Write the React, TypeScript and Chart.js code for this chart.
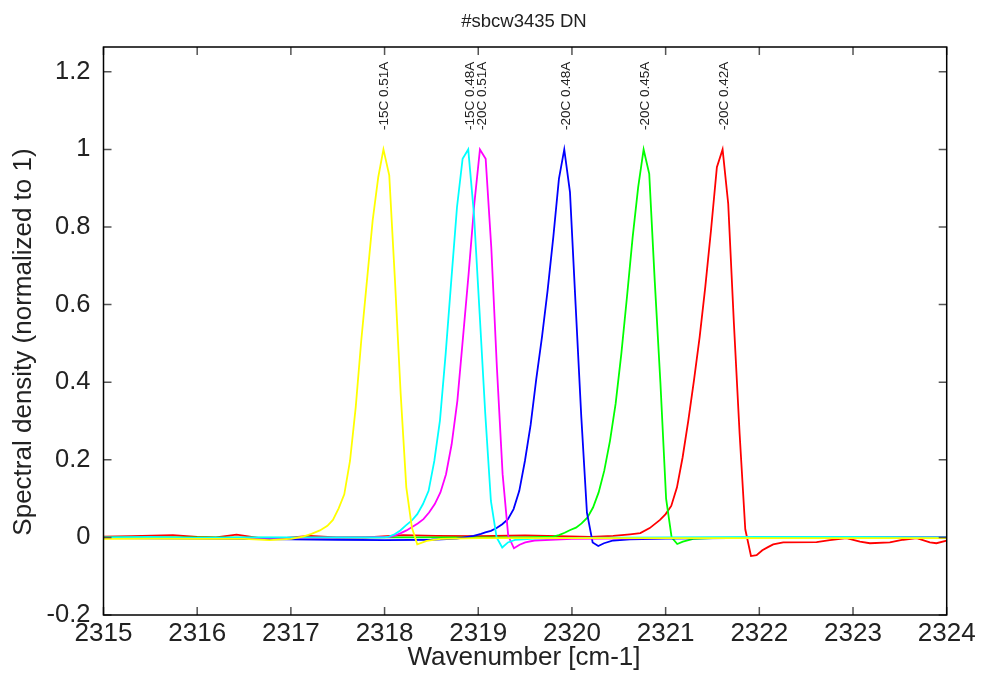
import React, { useEffect, useRef } from "react";
import { Chart, registerables } from "chart.js";

Chart.register(...registerables);

const TITLE = "#sbcw3435 DN";
const X_TITLE = "Wavenumber [cm-1]";
const Y_TITLE = "Spectral density (normalized to 1)";

const X_MIN = 2315;
const X_MAX = 2324;
const Y_MIN = -0.2;
const Y_MAX = 1.264;
const X_TICKS = [2315, 2316, 2317, 2318, 2319, 2320, 2321, 2322, 2323, 2324];
const Y_TICKS = [-0.2, 0, 0.2, 0.4, 0.6, 0.8, 1, 1.2];

const SERIES_NAMES = ["-15C 0.51A", "-15C 0.48A", "-20C 0.51A", "-20C 0.48A", "-20C 0.45A", "-20C 0.42A"];
const SERIES_COLORS = ["#ffff00", "#00ffff", "#ff00ff", "#0000ff", "#00ff00", "#ff0000"];

// peak label anchors (wavenumber, spectral density where the rotated text starts)
const LABEL_WN = [2318.0, 2318.915, 2319.04, 2319.944, 2320.78, 2321.622];
const LABEL_SD = 1.05;

const WN_YELLOW = [2315.0, 2315.5, 2316.0, 2316.5, 2316.77, 2317.0, 2317.13, 2317.22, 2317.31, 2317.39, 2317.449, 2317.51, 2317.57, 2317.631, 2317.692, 2317.751, 2317.812, 2317.873, 2317.933, 2317.988, 2318.05, 2318.111, 2318.172, 2318.232, 2318.292, 2318.349, 2318.45, 2318.6, 2319.0, 2320.0, 2321.0, 2322.0, 2323.0, 2324.0];
const SD_YELLOW = [-0.004, -0.003, -0.004, -0.004, -0.007, -0.004, 0.002, 0.009, 0.018, 0.03, 0.045, 0.075, 0.111, 0.197, 0.335, 0.507, 0.662, 0.817, 0.929, 1.0, 0.933, 0.662, 0.37, 0.129, 0.025, -0.018, -0.009, -0.004, -0.002, -0.002, -0.002, -0.002, -0.002, -0.002];

const WN_CYAN = [2315.0, 2315.5, 2316.0, 2316.5, 2317.0, 2317.5, 2318.0, 2318.047, 2318.107, 2318.168, 2318.228, 2318.289, 2318.349, 2318.41, 2318.47, 2318.531, 2318.591, 2318.652, 2318.712, 2318.773, 2318.833, 2318.893, 2318.954, 2319.015, 2319.075, 2319.135, 2319.196, 2319.256, 2319.317, 2319.4, 2319.6, 2320.0, 2321.0, 2322.0, 2323.0, 2324.0];
const SD_CYAN = [0.0, 0.001, -0.001, 0.0, 0.0, 0.0, 0.0, 0.002, 0.008, 0.018, 0.031, 0.043, 0.06, 0.086, 0.12, 0.197, 0.301, 0.473, 0.662, 0.851, 0.976, 1.0, 0.834, 0.576, 0.318, 0.094, 0.0, -0.026, -0.013, -0.006, -0.003, -0.001, 0.0, 0.001, 0.001, 0.0];

const WN_MAGENTA = [2315.0, 2316.0, 2317.0, 2317.8, 2318.053, 2318.113, 2318.173, 2318.234, 2318.294, 2318.354, 2318.415, 2318.475, 2318.536, 2318.596, 2318.656, 2318.716, 2318.777, 2318.837, 2318.897, 2318.958, 2319.018, 2319.079, 2319.139, 2319.199, 2319.26, 2319.32, 2319.381, 2319.441, 2319.502, 2319.6, 2320.0, 2321.0, 2322.0, 2323.0, 2324.0];
const SD_MAGENTA = [-0.001, -0.001, -0.001, 0.0, 0.001, 0.005, 0.011, 0.018, 0.027, 0.036, 0.047, 0.064, 0.086, 0.116, 0.163, 0.24, 0.352, 0.515, 0.679, 0.86, 1.0, 0.976, 0.748, 0.438, 0.163, 0.004, -0.028, -0.019, -0.013, -0.008, -0.004, -0.002, -0.001, 0.0, 0.0];

const WN_BLUE = [2315.0, 2316.0, 2317.0, 2317.5, 2318.0, 2318.5, 2318.77, 2318.95, 2319.03, 2319.075, 2319.135, 2319.196, 2319.256, 2319.317, 2319.377, 2319.438, 2319.498, 2319.559, 2319.619, 2319.68, 2319.74, 2319.801, 2319.861, 2319.918, 2319.979, 2320.039, 2320.1, 2320.16, 2320.221, 2320.281, 2320.342, 2320.441, 2320.619, 2321.0, 2322.0, 2323.0, 2324.0];
const SD_BLUE = [-0.002, -0.003, -0.005, -0.006, -0.007, -0.006, -0.003, 0.004, 0.009, 0.013, 0.017, 0.024, 0.034, 0.047, 0.073, 0.12, 0.197, 0.29, 0.408, 0.516, 0.636, 0.774, 0.924, 1.0, 0.89, 0.6, 0.31, 0.064, -0.013, -0.022, -0.015, -0.008, -0.005, -0.003, -0.001, 0.0, 0.0];

const WN_GREEN = [2315.0, 2316.0, 2317.0, 2318.0, 2319.0, 2319.5, 2319.801, 2319.861, 2319.922, 2319.982, 2320.043, 2320.103, 2320.164, 2320.225, 2320.285, 2320.345, 2320.406, 2320.466, 2320.527, 2320.587, 2320.648, 2320.707, 2320.765, 2320.825, 2320.884, 2320.944, 2321.005, 2321.064, 2321.124, 2321.184, 2321.294, 2321.5, 2322.0, 2323.0, 2324.0];
const SD_GREEN = [0.0, 0.0, -0.001, 0.0, 0.0, 0.0, 0.002, 0.006, 0.012, 0.019, 0.025, 0.036, 0.051, 0.077, 0.116, 0.172, 0.249, 0.344, 0.473, 0.619, 0.774, 0.903, 1.0, 0.937, 0.66, 0.4, 0.1, 0.0, -0.017, -0.011, -0.004, -0.002, -0.001, 0.0, 0.0];

const WN_RED = [2315.0, 2315.3, 2315.74, 2316.0, 2316.2, 2316.42, 2316.67, 2316.95, 2317.2, 2317.49, 2317.8, 2318.2, 2318.55, 2319.0, 2319.5, 2320.2, 2320.44, 2320.62, 2320.73, 2320.83, 2320.94, 2321.0, 2321.06, 2321.121, 2321.181, 2321.242, 2321.302, 2321.363, 2321.423, 2321.484, 2321.547, 2321.608, 2321.668, 2321.729, 2321.79, 2321.85, 2321.911, 2321.971, 2322.032, 2322.092, 2322.148, 2322.255, 2322.611, 2322.753, 2322.93, 2323.074, 2323.18, 2323.393, 2323.536, 2323.68, 2323.82, 2323.89, 2324.0];
const SD_RED = [0.002, 0.003, 0.006, 0.001, 0.0, 0.007, -0.002, -0.001, 0.004, 0.0, 0.0, 0.006, 0.004, 0.003, 0.005, 0.001, 0.004, 0.008, 0.011, 0.024, 0.045, 0.06, 0.081, 0.129, 0.206, 0.301, 0.404, 0.516, 0.645, 0.791, 0.954, 1.0, 0.86, 0.55, 0.266, 0.021, -0.048, -0.046, -0.033, -0.025, -0.018, -0.013, -0.012, -0.007, -0.002, -0.011, -0.015, -0.013, -0.006, -0.002, -0.013, -0.015, -0.008];

const SERIES_WN = [WN_YELLOW, WN_CYAN, WN_MAGENTA, WN_BLUE, WN_GREEN, WN_RED];
const SERIES_SD = [SD_YELLOW, SD_CYAN, SD_MAGENTA, SD_BLUE, SD_GREEN, SD_RED];

const FONT = '"Liberation Sans", Arial, Helvetica, sans-serif';

const decorPlugin = {
  id: "decor",
  afterDraw(chart: any) {
    const { ctx, chartArea: a, scales } = chart;
    const xs = scales.x;
    const ys = scales.y;
    ctx.save();
    // inward tick marks on all four sides
    ctx.strokeStyle = "#555";
    ctx.lineWidth = 1.5;
    ctx.beginPath();
    for (const t of xs.ticks) {
      const px = xs.getPixelForValue(t.value);
      ctx.moveTo(px, a.bottom);
      ctx.lineTo(px, a.bottom - 8);
      ctx.moveTo(px, a.top);
      ctx.lineTo(px, a.top + 8);
    }
    for (const t of ys.ticks) {
      const py = ys.getPixelForValue(t.value);
      ctx.moveTo(a.left, py);
      ctx.lineTo(a.left + 8, py);
      ctx.moveTo(a.right, py);
      ctx.lineTo(a.right - 8, py);
    }
    ctx.stroke();
    // frame
    ctx.strokeStyle = "#000";
    ctx.lineWidth = 1.5;
    ctx.strokeRect(a.left, a.top, a.right - a.left, a.bottom - a.top);

    // peak labels
    ctx.fillStyle = "#222";
    ctx.font = `13.5px ${FONT}`;
    ctx.textAlign = "left";
    ctx.textBaseline = "middle";
    SERIES_NAMES.forEach((s, i) => {
      const px = xs.getPixelForValue(LABEL_WN[i]);
      const py = ys.getPixelForValue(LABEL_SD);
      ctx.save();
      ctx.translate(px, py);
      ctx.rotate(-Math.PI / 2);
      ctx.fillText(s, 0, 0);
      ctx.restore();
    });

    // title
    ctx.textAlign = "center";
    ctx.textBaseline = "alphabetic";
    ctx.font = `18.5px ${FONT}`;
    ctx.fillText(TITLE, 524, 26.7);

    // axis titles
    ctx.font = `26px ${FONT}`;
    ctx.fillText(X_TITLE, 524, 665);
    ctx.save();
    ctx.translate(30.5, 342);
    ctx.rotate(-Math.PI / 2);
    ctx.fillText(Y_TITLE, 0, 0);
    ctx.restore();
    ctx.restore();
  },
};

export default function App() {
  const canvasRef = useRef<HTMLCanvasElement | null>(null);

  useEffect(() => {
    if (!canvasRef.current) return;
    const datasets = SERIES_NAMES.map((name, i) => ({
      label: name,
      data: SERIES_WN[i].map((x, j) => ({ x, y: SERIES_SD[i][j] })),
      borderColor: SERIES_COLORS[i],
      backgroundColor: SERIES_COLORS[i],
      borderWidth: 1.8,
      pointRadius: 0,
      pointHoverRadius: 0,
      tension: 0,
      fill: false,
    }));

    const chart = new Chart(canvasRef.current, {
      type: "line",
      data: { datasets },
      options: {
        animation: false,
        responsive: true,
        maintainAspectRatio: false,
        events: [],
        layout: { padding: { top: 47, right: 39.3, left: 0, bottom: 0 } },
        plugins: {
          legend: { display: false },
          title: { display: false },
          tooltip: { enabled: false },
        },
        scales: {
          x: {
            type: "linear",
            min: X_MIN,
            max: X_MAX,
            grid: { display: false, drawTicks: false },
            border: { display: false },
            afterBuildTicks: (scale: any) => {
              scale.ticks = X_TICKS.map((v) => ({ value: v }));
            },
            afterFit: (scale: any) => {
              scale.height = 62;
              scale.paddingLeft = 0;
              scale.paddingRight = 0;
            },
            ticks: {
              autoSkip: false,
              maxRotation: 0,
              padding: 3,
              color: "#222",
              font: { family: FONT, size: 26 },
              callback: (v: any) => String(v),
            },
          },
          y: {
            type: "linear",
            min: Y_MIN,
            max: Y_MAX,
            grid: { display: false, drawTicks: false },
            border: { display: false },
            afterBuildTicks: (scale: any) => {
              scale.ticks = Y_TICKS.map((v) => ({ value: v }));
            },
            afterFit: (scale: any) => {
              scale.width = 103.5;
              scale.paddingTop = 0;
              scale.paddingBottom = 0;
            },
            ticks: {
              autoSkip: false,
              padding: 13,
              color: "#222",
              font: { family: FONT, size: 25.5 },
              callback: (v: any) => String(v),
            },
          },
        },
      },
      plugins: [decorPlugin],
    });
    return () => chart.destroy();
  }, []);

  return (
    <div style={{ position: "fixed", left: 0, top: 0, width: 986, height: 677, background: "#fff" }}>
      <canvas ref={canvasRef} />
    </div>
  );
}
